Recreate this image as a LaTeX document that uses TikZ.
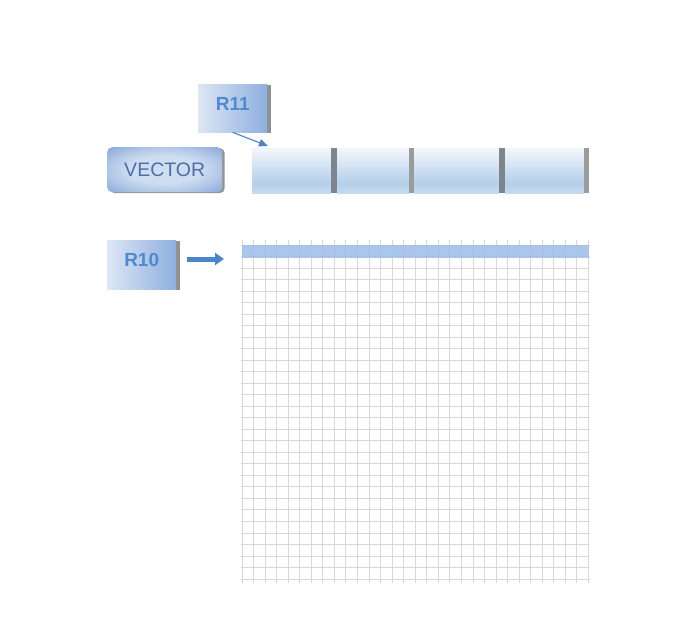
\documentclass[tikz,border=0pt]{standalone}
\usepackage{fontspec}
\setmainfont{Liberation Sans}
\usetikzlibrary{arrows.meta,shadows}
\definecolor{txtblue}{HTML}{4F8AD0}
\definecolor{vtxt}{HTML}{4A6FA5}
\definecolor{boxl}{HTML}{DDE6F4}
\definecolor{boxr}{HTML}{8EAFDF}
\definecolor{vin}{HTML}{CFDDF1}
\definecolor{vmid}{HTML}{B3C9E8}
\definecolor{vout}{HTML}{8DADDA}
\definecolor{shadowgray}{HTML}{8A8A8A}
\definecolor{cellTop}{HTML}{F3F7FC}
\definecolor{cellMid}{HTML}{B4CFEA}
\definecolor{cellBot}{HTML}{C8DCF0}
\definecolor{divdark}{HTML}{7D858E}
\definecolor{divlight}{HTML}{9B9B9B}
\definecolor{bandc}{HTML}{A3C1E8}
\definecolor{gridc}{HTML}{D8D8D8}
\definecolor{arrowblue}{HTML}{4A84CC}
\pgfdeclareverticalshading{cellshade}{100bp}{color(0bp)=(cellBot); color(25bp)=(cellBot); color(36bp)=(cellMid); color(75bp)=(cellTop); color(100bp)=(cellTop)}
\pgfdeclareradialshading{vshade}{\pgfpoint{0bp}{0bp}}{color(0bp)=(vin); color(15bp)=(vin); color(24bp)=(vmid); color(34bp)=(vout); color(50bp)=(vout)}
\begin{document}
\begin{tikzpicture}[x=1pt,y=-1pt,
  rbox/.style={rectangle, left color=boxl, right color=boxr, minimum width=69pt,
    minimum height=48pt, inner sep=0pt, text=txtblue, anchor=north west,
    font=\bfseries\fontsize{19}{22}\selectfont,
    drop shadow={shadow xshift=3.5pt, shadow yshift=-1pt, fill=shadowgray, opacity=0.95}},
  vbox/.style={rectangle, rounded corners=5pt, shading=vshade,
    minimum width=115pt, minimum height=45pt, inner sep=0pt, text=vtxt, anchor=north west,
    font=\fontsize{19.5}{22}\selectfont,
    drop shadow={shadow xshift=2.5pt, shadow yshift=-1pt, fill=shadowgray, opacity=0.9}},
  cellbox/.style={rectangle, shading=cellshade, inner sep=0pt, minimum height=45pt, anchor=north west},
  gridline/.style={draw=gridc, line width=1pt},
  thinarrow/.style={draw=arrowblue, line width=1.1pt, -{Triangle[length=9pt,width=7.5pt]}},
  fatarrow/.style={draw=arrowblue, line width=5pt, -{Triangle[length=9pt,width=12pt]}}
]
\useasboundingbox (0,0) rectangle (693,621);

% grid
\foreach \i in {0,...,30}
  \draw[gridline] (242+\i*11.55,240) -- (242+\i*11.55,583);
\foreach \j in {0,...,29}
  \draw[gridline] (241,245+\j*11.52) -- (590,245+\j*11.52);
\fill[bandc, opacity=0.92] (242,245) rectangle (589,257.5);

% vector cells
\node[cellbox, minimum width=79pt] (c1) at (252,148) {};
\node[cellbox, minimum width=72pt] (c2) at (337,148) {};
\node[cellbox, minimum width=85pt] (c3) at (414,148) {};
\node[cellbox, minimum width=79pt] (c4) at (505,148) {};
\fill[divdark] (c1.north east) rectangle (c2.south west);
\fill[divlight] (c2.north east) rectangle (c3.south west);
\fill[divdark] (c3.north east) rectangle (c4.south west);
\fill[divlight] (c4.north east) rectangle ([xshift=5pt]c4.south east);

% labels
\node[rbox] (r11) at (198,84) {\raisebox{8pt}{R11}};
\node[rbox, minimum height=49pt] (r10) at (107,240) {\raisebox{9pt}{R10}};
\node[vbox] (vec) at (107,147) {VECTOR};

% arrows
\coordinate (a11e) at (268,146);
\draw[thinarrow] (r11.south) -- (a11e);
\coordinate (a10s) at (187,259);
\coordinate (a10e) at (224,259);
\draw[fatarrow] (a10s) -- (a10e);
\end{tikzpicture}
\end{document}
